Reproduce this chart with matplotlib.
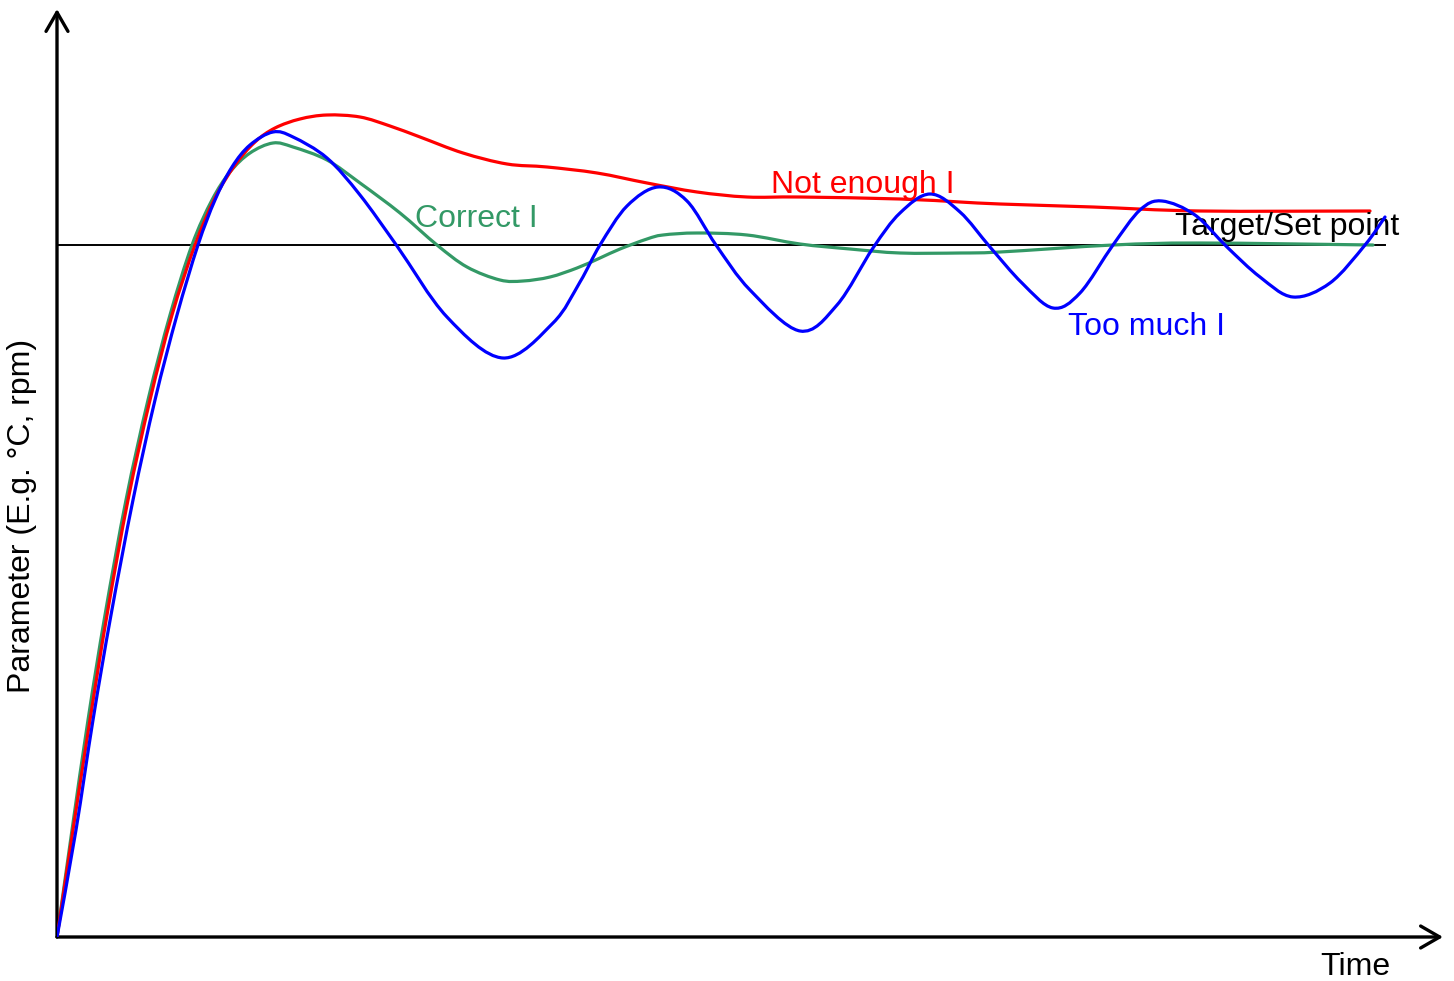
import matplotlib
matplotlib.use("Agg")
import matplotlib.pyplot as plt
from matplotlib.path import Path
from matplotlib.patches import PathPatch

plt.rcParams['font.family'] = ['Liberation Sans', 'DejaVu Sans']

# Arbitrary units: time axis and parameter value (set point = 692)
set_point = 692
set_point_end = 1328

t_not_enough = [0, 16, 33, 50, 71, 93, 115, 138, 158, 178, 198, 218, 243, 270, 303, 333,
                363, 406, 450, 490, 540, 590, 640, 690, 743, 843, 903, 943, 1036, 1143, 1313]
v_not_enough = [0, 107, 217, 322, 437, 537, 622, 692, 739, 772, 795, 809, 818, 822, 820, 811,
                800, 784, 773, 770, 764, 754, 745, 740, 740, 738, 735, 733, 730, 726, 726]

t_too_much = [0, 19, 36, 54, 76, 98, 120, 141, 158, 175, 193, 216, 236, 270, 303, 340,
              390, 446, 496, 523, 543, 570, 601, 630, 659, 693, 743, 780, 816, 843, 873, 903,
              933, 965, 996, 1023, 1056, 1083, 1105, 1138, 1170, 1203, 1236, 1273, 1308, 1328]
v_too_much = [0, 107, 217, 322, 437, 537, 622, 692, 737, 770, 792, 805, 800, 779, 742, 691,
              620, 579, 614, 655, 692, 731, 750, 736, 692, 647, 606, 632, 689, 724, 743, 725,
              690, 654, 629, 644, 692, 727, 736, 722, 690, 660, 640, 654, 692, 720]

t_correct = [0, 15, 31, 48, 69, 91, 113, 135, 155, 173, 193, 216, 236, 270, 303, 343, 380,
             410, 443, 466, 493, 520, 543, 563, 590, 606, 640, 690, 743, 793, 843, 903,
             943, 1056, 1143, 1316]
v_correct = [0, 107, 217, 322, 437, 537, 622, 692, 737, 765, 784, 794, 790, 777, 754, 724, 692,
             670, 657, 656, 660, 669, 679, 688, 698, 702, 704, 702, 693, 688, 684, 684,
             685, 692, 694, 692]

red = '#ff0000'
blue = '#0000ff'
green = '#339966'


def smooth_path(xs, ys):
    """Catmull-Rom curve through the data points, as cubic Bezier segments."""
    pts = list(zip(xs, ys))
    verts = [pts[0]]
    codes = [Path.MOVETO]
    n = len(pts)
    for i in range(n - 1):
        p0 = pts[i - 1] if i > 0 else pts[i]
        p1 = pts[i]
        p2 = pts[i + 1]
        p3 = pts[i + 2] if i + 2 < n else pts[i + 1]
        c1 = (p1[0] + (p2[0] - p0[0]) / 6, p1[1] + (p2[1] - p0[1]) / 6)
        c2 = (p2[0] - (p3[0] - p1[0]) / 6, p2[1] - (p3[1] - p1[1]) / 6)
        verts += [c1, c2, p2]
        codes += [Path.CURVE4] * 3
    return Path(verts, codes)


fig = plt.figure(figsize=(14.54, 9.81), dpi=100)
ax = fig.add_axes([57 / 1454, 44 / 981, (1443 - 57) / 1454, (937 - 9) / 981])
ax.set_xlim(0, 1386)
ax.set_ylim(0, 928)
ax.axis('off')

ax.plot([0, set_point_end], [set_point, set_point], color='black', lw=1.4, zorder=2)
for xs, ys, col, z in [(t_correct, v_correct, green, 3),
                       (t_not_enough, v_not_enough, red, 4),
                       (t_too_much, v_too_much, blue, 5)]:
    ax.add_patch(PathPatch(smooth_path(xs, ys), facecolor='none', edgecolor=col,
                           lw=2.3, zorder=z, capstyle='round', joinstyle='round',
                           transform=ax.transData))

arrow = dict(arrowstyle='->,head_length=1.37,head_width=0.79', lw=2.4, color='black',
             shrinkA=0, shrinkB=0, mutation_scale=10)
ax.annotate('', xy=(1386, 0), xytext=(0, 0), arrowprops=arrow, annotation_clip=False)
ax.annotate('', xy=(0, 928), xytext=(0, 0), arrowprops=arrow, annotation_clip=False)

fs = 23
ax.text(714, 744, 'Not enough I', color=red, fontsize=fs, ha='left', va='baseline', zorder=6)
ax.text(358, 710, 'Correct I', color=green, fontsize=fs, ha='left', va='baseline', zorder=6)
ax.text(1011, 602, 'Too much I', color=blue, fontsize=fs, ha='left', va='baseline', zorder=6)
ax.text(1118, 702, 'Target/Set point', color='black', fontsize=fs, ha='left', va='baseline', zorder=4.5)
ax.text(1263, -38, 'Time', color='black', fontsize=fs, ha='left', va='baseline', clip_on=False)
ax.text(-35, 421, 'Parameter (E.g. \u00b0C, rpm)', color='black', fontsize=fs, rotation=90,
        ha='center', va='center', clip_on=False)

fig.savefig('out.png', dpi=100, facecolor='white')
